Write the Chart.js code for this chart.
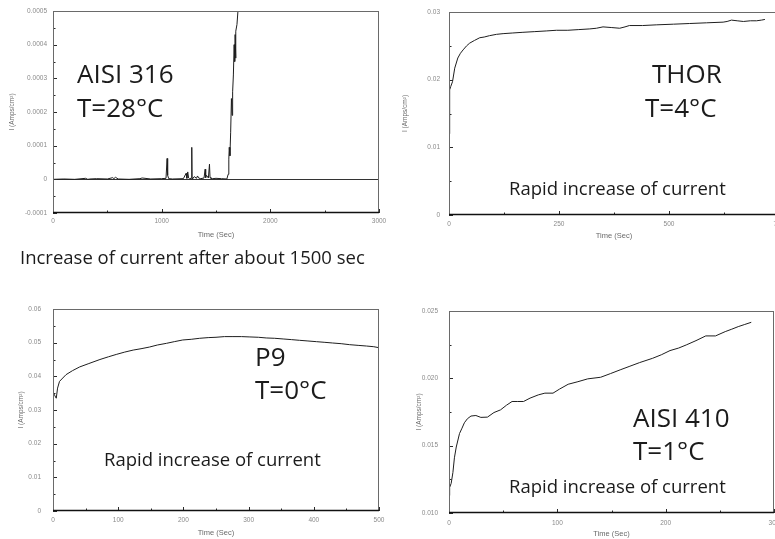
<!DOCTYPE html>
<html>
<head>
<meta charset="utf-8">
<script src="https://cdn.jsdelivr.net/npm/chart.js@4.4.1/dist/chart.umd.min.js"></script>
<style>
  html, body { margin: 0; padding: 0; background: #fff; width: 775px; height: 539px; overflow: hidden; position: relative; }
  canvas { position: absolute; }
  .note { position: absolute; font-family: 'Open Sans', sans-serif; line-height: 1; color: #1b1b1b; white-space: nowrap; }
</style>
</head>
<body>
<canvas id="c316"></canvas>
<canvas id="cthor"></canvas>
<canvas id="cp9"></canvas>
<canvas id="c410"></canvas>

<script>
// ---- data ----
const yTitle = 'I (Amps/cm²)';
const xTitle = 'Time (Sec)';

// AISI 316, T=28°C
const aisi316Time = [0, 100, 200, 300, 320, 340, 400, 500, 550, 560, 575, 600, 700, 800, 820, 900, 1000, 1040,
  1050, 1055, 1065, 1100, 1200, 1225, 1232, 1240, 1248, 1255, 1270, 1277, 1280, 1285, 1300, 1320, 1330, 1340,
  1360, 1390, 1400, 1405, 1412, 1430, 1440, 1445, 1452, 1470, 1500, 1550, 1600, 1612, 1618, 1622, 1628, 1635,
  1642, 1648, 1653, 1660, 1667, 1672, 1676, 1680, 1684, 1693, 1702, 1712];
const aisi316Current = [0, 0.000001, 0, 0.000003, 0, 0.000001, 0.000002, 0.000001, 0.000005, 0.000002, 0.000006, 0.000001,
  0, 0.000002, 0.000004, 0.000001, 0.000002, 0.000003,
  0.000062, 0.000012, 0.000002, 0.000001, 0.000002, 0.000018, 0.000003, 0.000022, 0.000004, 0.000002, 0.000003, 0.000095, 0.000004, 0.000002,
  0.000008, 0.000003, 0.00001, 0.000004,
  0.000002, 0.000004, 0.00003, 0.000005, 0.000012, 0.000004, 0.000045, 0.000006, 0.000003, 0.000002, 0.000003, 0.000002,
  0.000001, 0.000015, 0.00006, 0.000095, 0.00007, 0.00014,
  0.00024, 0.00019, 0.00026, 0.00031, 0.0004, 0.00035, 0.00043, 0.00036, 0.00044, 0.00046, 0.0005, 0.0006];

// THOR, T=4°C
const thorTime = [0, 1, 2, 4, 8, 13, 20, 26, 32, 40, 47, 58, 70, 80, 92, 108, 123, 145, 168, 195, 221, 244, 270,
  295, 320, 335, 350, 370, 388, 400, 410, 440, 471, 510, 547, 585, 623, 632, 642, 655, 669, 685, 699, 710, 718];
const thorCurrent = [0.012, 0.016, 0.0185, 0.019, 0.0197, 0.0217, 0.0232, 0.0239, 0.0244, 0.025, 0.0254, 0.0258,
  0.0262, 0.0263, 0.0265, 0.0267, 0.0268, 0.0269, 0.027, 0.0271, 0.0272, 0.0273, 0.0273, 0.0274, 0.0275, 0.0276,
  0.0278, 0.0277, 0.0276, 0.0278, 0.028, 0.028, 0.0281, 0.0282, 0.0283, 0.0284, 0.0285, 0.0286, 0.0288, 0.0287,
  0.0286, 0.0287, 0.0287, 0.0288, 0.0289];

// P9, T=0°C
const p9Time = [0, 0.5, 1, 3, 5, 7, 10, 15, 20, 30, 41, 55, 72, 85, 97, 110, 123, 135, 148, 160, 174, 186, 199,
  212, 225, 238, 250, 263, 276, 289, 302, 315, 327, 340, 353, 366, 378, 391, 404, 417, 429, 442, 455, 468, 481, 492, 500];
const p9Current = [0.015, 0.027, 0.035, 0.0342, 0.0335, 0.0365, 0.0385, 0.0395, 0.0405, 0.0417, 0.0428, 0.0438,
  0.045, 0.0458, 0.0465, 0.0472, 0.0478, 0.0482, 0.0487, 0.0493, 0.0498, 0.0503, 0.0508, 0.051, 0.0513, 0.0515,
  0.0516, 0.0518, 0.0518, 0.0518, 0.0517, 0.0516, 0.0514, 0.0513, 0.0511, 0.0509, 0.0507, 0.0505, 0.0503, 0.0501,
  0.0499, 0.0497, 0.0494, 0.0492, 0.049, 0.0488, 0.0485];

// AISI 410, T=1°C
const aisi410Time = [0, 0.6, 2, 3.6, 5, 6.7, 9.7, 12, 14.2, 17, 20.3, 24.8, 29.4, 35.5, 41.5, 47.6, 53, 58.2, 63,
  68.8, 74.8, 82.4, 88.5, 96, 102, 110, 119, 128, 140, 149, 158, 167, 176, 188, 196, 204, 212, 219, 228, 237, 246,
  255, 261, 267, 273, 279];
const aisi410Current = [0.0113, 0.0119, 0.0122, 0.013, 0.0141, 0.0149, 0.0159, 0.0163, 0.0167, 0.017, 0.0172,
  0.01724, 0.0171, 0.01712, 0.01746, 0.01766, 0.018, 0.01828, 0.01828, 0.01828, 0.01853, 0.01877, 0.0189, 0.0189,
  0.0192, 0.01956, 0.01975, 0.01996, 0.02008, 0.02035, 0.02063, 0.0209, 0.02117, 0.02149, 0.02175, 0.02206,
  0.02225, 0.02248, 0.0228, 0.02315, 0.02315, 0.02347, 0.02365, 0.02384, 0.024, 0.02416];

Chart.defaults.font.family = "'Liberation Sans', Arial, sans-serif";

// ticks pointing inward on the left and bottom axes, plus the frame
const insideTicks = {
  id: 'insideTicks',
  afterDatasetsDraw(chart, args, opts) {
    const { ctx, chartArea: a, scales: { x, y } } = chart;
    ctx.save();
    ctx.strokeStyle = '#2a2a2a';
    ctx.lineWidth = 1;
    const each = (scale, step, fn) => {
      const n = Math.round((scale.max - scale.min) / step);
      for (let i = 0; i <= n; i++) fn(Math.round(scale.getPixelForValue(scale.min + i * step)) + 0.5, i);
    };
    each(x, opts.xMinor, (px, i) => {
      const len = i % 2 === 0 ? 4 : 2.5;
      ctx.beginPath(); ctx.moveTo(px, a.bottom); ctx.lineTo(px, a.bottom - len); ctx.stroke();
    });
    each(y, opts.yMinor, (py, i) => {
      const len = i % 2 === 0 ? 4 : 2.5;
      ctx.beginPath(); ctx.moveTo(a.left, py); ctx.lineTo(a.left + len, py); ctx.stroke();
    });
    // frame
    ctx.strokeStyle = '#6a6a6a';
    ctx.strokeRect(a.left + 0.5, a.top + 0.5, a.right - a.left - 1, a.bottom - a.top - 1);
    ctx.strokeStyle = '#111';
    ctx.lineWidth = 1.6;
    ctx.beginPath(); ctx.moveTo(a.left, a.bottom - 0.5); ctx.lineTo(a.right, a.bottom - 0.5); ctx.stroke();
    ctx.restore();
  }
};

function fmt(decimals) {
  return v => Math.abs(v) < 1e-12 ? '0' : v.toFixed(decimals);
}

function buildChart(id, p, times, values, ax) {
  const cv = document.getElementById(id);
  cv.width = p.box.w; cv.height = p.box.h;
  cv.style.left = p.box.x + 'px'; cv.style.top = p.box.y + 'px';
  const a = p.area;
  const lh = 1.2, tickSize = 6.5, xtSize = 7.5, ytSize = 6.5;
  return new Chart(cv, {
    type: 'line',
    data: {
      datasets: [{
        data: times.map((t, i) => ({ x: t, y: values[i] })),
        borderColor: '#1e1e1e', borderWidth: 1, pointRadius: 0, tension: 0, fill: false
      }]
    },
    options: {
      responsive: false, animation: false, devicePixelRatio: 1,
      layout: { padding: { left: 0, bottom: 0, top: a.t - p.box.y, right: p.box.x + p.box.w - a.r } },
      plugins: {
        legend: { display: false }, tooltip: { enabled: false },
        insideTicks: { xMinor: ax.xMinor, yMinor: ax.yMinor }
      },
      scales: {
        x: {
          type: 'linear', min: ax.xMin, max: ax.xMax,
          border: { display: false },
          grid: { display: false, drawTicks: false },
          ticks: {
            stepSize: ax.xStep, autoSkip: false, maxRotation: 0, color: '#8a8a8a',
            font: { size: tickSize }, padding: p.xLabelY - a.b - tickSize * lh / 2,
            callback: v => String(v)
          },
          title: {
            display: true, text: xTitle, color: '#6a6a6a', font: { size: xtSize },
            padding: { top: 0, bottom: p.box.y + p.box.h - p.xTitleY - xtSize * lh / 2 }
          },
          afterFit: s => { s.height = p.box.y + p.box.h - a.b; s.paddingLeft = 0; s.paddingRight = 0; }
        },
        y: {
          type: 'linear', min: ax.yMin, max: ax.yMax,
          border: { display: false },
          grid: {
            display: !!ax.zeroLine, drawTicks: false,
            color: c => (ax.zeroLine && c.tick && Math.abs(c.tick.value) < 1e-12) ? '#333' : 'rgba(0,0,0,0)'
          },
          ticks: {
            stepSize: ax.yStep, autoSkip: false, color: '#8a8a8a',
            font: { size: tickSize }, padding: p.yGap, callback: fmt(ax.yDec)
          },
          title: {
            display: true, text: yTitle, color: '#6a6a6a', font: { size: ytSize },
            padding: { top: p.yTitleX - p.box.x - ytSize * lh / 2, bottom: 0 }
          },
          afterFit: s => { s.width = a.l - p.box.x; s.paddingTop = 0; s.paddingBottom = 0; }
        }
      }
    },
    plugins: [insideTicks]
  });
}

buildChart('c316',
  { box: { x: 0, y: 0, w: 390, h: 245 }, area: { l: 53, t: 11, r: 379, b: 213 }, yTitleX: 12, yGap: 6, xLabelY: 221, xTitleY: 235 },
  aisi316Time, aisi316Current,
  { xMin: 0, xMax: 3000, xStep: 1000, xMinor: 500, yMin: -0.0001, yMax: 0.0005, yStep: 0.0001, yMinor: 0.00005, yDec: 4, zeroLine: true });

buildChart('cthor',
  { box: { x: 390, y: 0, w: 400, h: 245 }, area: { l: 449, t: 12, r: 779, b: 215 }, yTitleX: 405, yGap: 9, xLabelY: 224, xTitleY: 236 },
  thorTime, thorCurrent,
  { xMin: 0, xMax: 750, xStep: 250, xMinor: 125, yMin: 0, yMax: 0.03, yStep: 0.01, yMinor: 0.005, yDec: 2 });

buildChart('cp9',
  { box: { x: 0, y: 280, w: 390, h: 259 }, area: { l: 53, t: 309, r: 379, b: 511 }, yTitleX: 21, yGap: 12, xLabelY: 520, xTitleY: 533 },
  p9Time, p9Current,
  { xMin: 0, xMax: 500, xStep: 100, xMinor: 50, yMin: 0, yMax: 0.06, yStep: 0.01, yMinor: 0.005, yDec: 2 });

buildChart('c410',
  { box: { x: 390, y: 280, w: 396, h: 259 }, area: { l: 449, t: 311, r: 774, b: 513 }, yTitleX: 419, yGap: 11, xLabelY: 523, xTitleY: 534 },
  aisi410Time, aisi410Current,
  { xMin: 0, xMax: 300, xStep: 100, xMinor: 50, yMin: 0.01, yMax: 0.025, yStep: 0.005, yMinor: 0.0025, yDec: 3 });

// text notes placed by their baseline (Open Sans, line-height 1 -> baseline at 0.888em)
const notes = [
  ['AISI 316', 77, 83, 26], ['T=28°C', 77, 117, 26],
  ['Increase of current after about 1500 sec', 20, 264, 18.5],
  ['THOR', 652, 83, 26], ['T=4°C', 645, 117, 26], ['Rapid increase of current', 509, 195, 18.5],
  ['P9', 255, 366, 26], ['T=0°C', 255, 399, 26], ['Rapid increase of current', 104, 466, 18.5],
  ['AISI 410', 633, 427, 26], ['T=1°C', 633, 460, 26], ['Rapid increase of current', 509, 493, 18.5]
];
notes.forEach(([text, x, base, size]) => {
  const d = document.createElement('div');
  d.className = 'note';
  d.textContent = text;
  d.style.left = x + 'px';
  d.style.top = (base - 0.888 * size) + 'px';
  d.style.fontSize = size + 'px';
  document.body.appendChild(d);
});
</script>
</body>
</html>
